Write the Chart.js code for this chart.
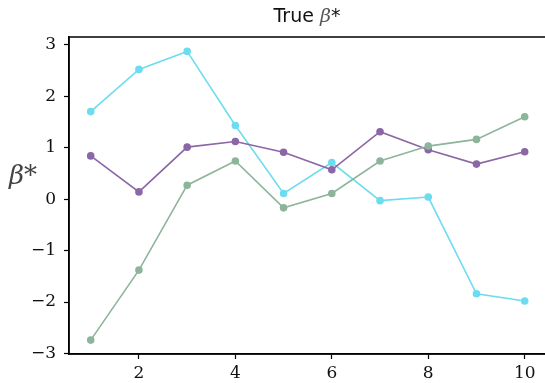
<!DOCTYPE html>
<html>
<head>
<meta charset="utf-8">
<script src="https://cdn.jsdelivr.net/npm/chart.js@4"></script>
<style>
  html, body { margin: 0; padding: 0; background: #fff; overflow: hidden; }
  #wrap { position: relative; width: 545px; height: 383px; overflow: hidden; }
  #title { position: absolute; left: 0; width: 100%; padding-left: 69px; box-sizing: border-box; top: 4px; text-align: center;
           font-family: "DejaVu Sans", sans-serif; font-size: 19px; color: #111; }
  #title i { font-family: "DejaVu Serif", serif; color: #555; }
  #ylab { position: absolute; left: 9px; top: 160px; font-family: "DejaVu Serif", serif; font-style: italic; font-size: 26px; color: #444; }
</style>
</head>
<body>
<div id="wrap">
  <!-- canvas a bit wider than the page so the plot box reaches the right edge -->
  <canvas id="c" width="551" height="383"></canvas>
  <div id="title">True <i>β</i>*</div>
  <div id="ylab">β*</div>
</div>
<script>
const xs = [1, 2, 3, 4, 5, 6, 7, 8, 9, 10];
const cyanVals = [1.70, 2.52, 2.87, 1.43, 0.11, 0.71, -0.03, 0.04, -1.84, -1.98];
const purpleVals = [0.84, 0.14, 1.01, 1.12, 0.91, 0.57, 1.31, 0.96, 0.68, 0.92];
const greenVals = [-2.74, -1.38, 0.27, 0.74, -0.17, 0.11, 0.74, 1.03, 1.16, 1.60];
const xTicks = [2, 4, 6, 8, 10];
const yTicks = [-3, -2, -1, 0, 1, 2, 3];

const pts = vals => vals.map((v, i) => ({ x: xs[i], y: v }));

function series(vals, color) {
    return {
        data: pts(vals),
        borderColor: color,
        backgroundColor: color,
        borderWidth: 1.6,
        pointRadius: 3,
        pointHoverRadius: 3,
        tension: 0
    };
}

// matplotlib-style box round the plot area
const frame = {
    id: 'frame',
    afterDraw(chart) {
        const a = chart.chartArea;
        const ctx = chart.ctx;
        ctx.save();
        ctx.strokeStyle = '#000';
        ctx.lineWidth = 1.5;
        ctx.strokeRect(a.left, a.top, a.right - a.left, a.bottom - a.top);
        ctx.restore();
    }
};

const tickFont = { family: '"DejaVu Serif", serif', size: 17 };

new Chart(document.getElementById('c'), {
    type: 'line',
    data: {
        datasets: [
            series(greenVals, '#8db59b'),
            series(purpleVals, '#8b67a5'),
            series(cyanVals, '#6ddcee')
        ]
    },
    options: {
        responsive: false,
        animation: false,
        events: [],
        layout: { padding: { top: 37, right: 0, left: 0, bottom: 0 } },
        plugins: { legend: { display: false }, tooltip: { enabled: false } },
        scales: {
            x: {
                type: 'linear',
                min: 0.55,
                max: 10.45,
                afterBuildTicks: s => { s.ticks = xTicks.map(v => ({ value: v })); },
                afterFit: s => { s.height = 29; },
                grid: { display: true, drawOnChartArea: false, drawTicks: true, tickLength: 5, color: '#000', tickWidth: 1.2 },
                border: { display: true, color: '#000', width: 1.5 },
                ticks: { color: '#111', font: tickFont, padding: 4, maxRotation: 0 }
            },
            y: {
                type: 'linear',
                min: -3.01,
                max: 3.15,
                afterBuildTicks: s => { s.ticks = yTicks.map(v => ({ value: v })); },
                afterFit: s => { s.width = 69; },
                grid: { display: true, drawOnChartArea: false, drawTicks: true, tickLength: 5, color: '#000', tickWidth: 1.2 },
                border: { display: true, color: '#000', width: 1.5 },
                ticks: {
                    color: '#111', font: tickFont, padding: 8,
                    callback: v => (v < 0 ? '\u2212' + Math.abs(v) : String(v))
                }
            }
        }
    },
    plugins: [frame]
});
</script>
</body>
</html>
